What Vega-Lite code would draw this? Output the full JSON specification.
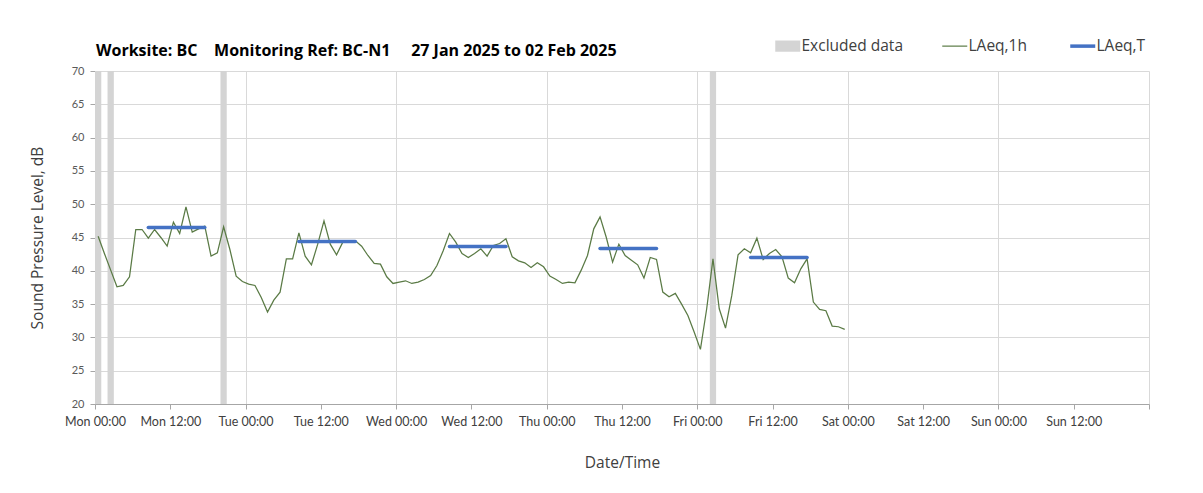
{
  "$schema": "https://vega.github.io/schema/vega-lite/v6.json",
  "width": 1054,
  "height": 333,
  "autosize": "none",
  "padding": {"left": 95, "top": 71, "right": 54, "bottom": 89},
  "background": "white",
  "config": {"font": "Open Sans", "view": {"stroke": null}},
  "title": {
    "text": "Worksite: BC\u00a0\u00a0\u00a0\u00a0Monitoring Ref: BC-N1\u00a0\u00a0\u00a0\u00a0\u00a027 Jan 2025 to 02 Feb 2025",
    "anchor": "start", "frame": "group", "dx": 1, "dy": 42,
    "font": "Open Sans", "fontSize": 16, "fontWeight": "bold", "color": "#000000", "offset": 21
  },
  "data": {"values": [
      {"t": "2025-01-27T00:00", "t2": "2025-01-27T01:00", "s": "Excluded data"},
      {"t": "2025-01-27T02:00", "t2": "2025-01-27T03:00", "s": "Excluded data"},
      {"t": "2025-01-27T20:00", "t2": "2025-01-27T21:00", "s": "Excluded data"},
      {"t": "2025-01-31T02:00", "t2": "2025-01-31T03:00", "s": "Excluded data"},
      {"t": "2025-01-27T08:30", "v": 46.5, "s": "LAeq,T", "p": "Mon"},
      {"t": "2025-01-27T17:30", "v": 46.5, "s": "LAeq,T", "p": "Mon"},
      {"t": "2025-01-28T08:30", "v": 44.4, "s": "LAeq,T", "p": "Tue"},
      {"t": "2025-01-28T17:30", "v": 44.4, "s": "LAeq,T", "p": "Tue"},
      {"t": "2025-01-29T08:30", "v": 43.65, "s": "LAeq,T", "p": "Wed"},
      {"t": "2025-01-29T17:30", "v": 43.65, "s": "LAeq,T", "p": "Wed"},
      {"t": "2025-01-30T08:30", "v": 43.35, "s": "LAeq,T", "p": "Thu"},
      {"t": "2025-01-30T17:30", "v": 43.35, "s": "LAeq,T", "p": "Thu"},
      {"t": "2025-01-31T08:30", "v": 42.0, "s": "LAeq,T", "p": "Fri"},
      {"t": "2025-01-31T17:30", "v": 42.0, "s": "LAeq,T", "p": "Fri"},
      {"t": "2025-01-27T00:30", "v": 45.2, "s": "LAeq,1h"},
      {"t": "2025-01-27T01:30", "v": 42.6, "s": "LAeq,1h"},
      {"t": "2025-01-27T02:30", "v": 40.1, "s": "LAeq,1h"},
      {"t": "2025-01-27T03:30", "v": 37.6, "s": "LAeq,1h"},
      {"t": "2025-01-27T04:30", "v": 37.8, "s": "LAeq,1h"},
      {"t": "2025-01-27T05:30", "v": 39.1, "s": "LAeq,1h"},
      {"t": "2025-01-27T06:30", "v": 46.2, "s": "LAeq,1h"},
      {"t": "2025-01-27T07:30", "v": 46.2, "s": "LAeq,1h"},
      {"t": "2025-01-27T08:30", "v": 44.9, "s": "LAeq,1h"},
      {"t": "2025-01-27T09:30", "v": 46.2, "s": "LAeq,1h"},
      {"t": "2025-01-27T10:30", "v": 45.0, "s": "LAeq,1h"},
      {"t": "2025-01-27T11:30", "v": 43.7, "s": "LAeq,1h"},
      {"t": "2025-01-27T12:30", "v": 47.3, "s": "LAeq,1h"},
      {"t": "2025-01-27T13:30", "v": 45.6, "s": "LAeq,1h"},
      {"t": "2025-01-27T14:30", "v": 49.6, "s": "LAeq,1h"},
      {"t": "2025-01-27T15:30", "v": 45.8, "s": "LAeq,1h"},
      {"t": "2025-01-27T16:30", "v": 46.3, "s": "LAeq,1h"},
      {"t": "2025-01-27T17:30", "v": 46.7, "s": "LAeq,1h"},
      {"t": "2025-01-27T18:30", "v": 42.2, "s": "LAeq,1h"},
      {"t": "2025-01-27T19:30", "v": 42.7, "s": "LAeq,1h"},
      {"t": "2025-01-27T20:30", "v": 46.6, "s": "LAeq,1h"},
      {"t": "2025-01-27T21:30", "v": 43.2, "s": "LAeq,1h"},
      {"t": "2025-01-27T22:30", "v": 39.2, "s": "LAeq,1h"},
      {"t": "2025-01-27T23:30", "v": 38.4, "s": "LAeq,1h"},
      {"t": "2025-01-28T00:30", "v": 38.0, "s": "LAeq,1h"},
      {"t": "2025-01-28T01:30", "v": 37.8, "s": "LAeq,1h"},
      {"t": "2025-01-28T02:30", "v": 36.0, "s": "LAeq,1h"},
      {"t": "2025-01-28T03:30", "v": 33.8, "s": "LAeq,1h"},
      {"t": "2025-01-28T04:30", "v": 35.6, "s": "LAeq,1h"},
      {"t": "2025-01-28T05:30", "v": 36.8, "s": "LAeq,1h"},
      {"t": "2025-01-28T06:30", "v": 41.8, "s": "LAeq,1h"},
      {"t": "2025-01-28T07:30", "v": 41.8, "s": "LAeq,1h"},
      {"t": "2025-01-28T08:30", "v": 45.7, "s": "LAeq,1h"},
      {"t": "2025-01-28T09:30", "v": 42.2, "s": "LAeq,1h"},
      {"t": "2025-01-28T10:30", "v": 40.9, "s": "LAeq,1h"},
      {"t": "2025-01-28T11:30", "v": 44.0, "s": "LAeq,1h"},
      {"t": "2025-01-28T12:30", "v": 47.5, "s": "LAeq,1h"},
      {"t": "2025-01-28T13:30", "v": 44.0, "s": "LAeq,1h"},
      {"t": "2025-01-28T14:30", "v": 42.4, "s": "LAeq,1h"},
      {"t": "2025-01-28T15:30", "v": 44.3, "s": "LAeq,1h"},
      {"t": "2025-01-28T16:30", "v": 44.5, "s": "LAeq,1h"},
      {"t": "2025-01-28T17:30", "v": 44.5, "s": "LAeq,1h"},
      {"t": "2025-01-28T18:30", "v": 43.7, "s": "LAeq,1h"},
      {"t": "2025-01-28T19:30", "v": 42.3, "s": "LAeq,1h"},
      {"t": "2025-01-28T20:30", "v": 41.1, "s": "LAeq,1h"},
      {"t": "2025-01-28T21:30", "v": 41.0, "s": "LAeq,1h"},
      {"t": "2025-01-28T22:30", "v": 39.1, "s": "LAeq,1h"},
      {"t": "2025-01-28T23:30", "v": 38.1, "s": "LAeq,1h"},
      {"t": "2025-01-29T00:30", "v": 38.3, "s": "LAeq,1h"},
      {"t": "2025-01-29T01:30", "v": 38.5, "s": "LAeq,1h"},
      {"t": "2025-01-29T02:30", "v": 38.1, "s": "LAeq,1h"},
      {"t": "2025-01-29T03:30", "v": 38.3, "s": "LAeq,1h"},
      {"t": "2025-01-29T04:30", "v": 38.7, "s": "LAeq,1h"},
      {"t": "2025-01-29T05:30", "v": 39.3, "s": "LAeq,1h"},
      {"t": "2025-01-29T06:30", "v": 40.8, "s": "LAeq,1h"},
      {"t": "2025-01-29T07:30", "v": 43.0, "s": "LAeq,1h"},
      {"t": "2025-01-29T08:30", "v": 45.6, "s": "LAeq,1h"},
      {"t": "2025-01-29T09:30", "v": 44.3, "s": "LAeq,1h"},
      {"t": "2025-01-29T10:30", "v": 42.6, "s": "LAeq,1h"},
      {"t": "2025-01-29T11:30", "v": 42.0, "s": "LAeq,1h"},
      {"t": "2025-01-29T12:30", "v": 42.6, "s": "LAeq,1h"},
      {"t": "2025-01-29T13:30", "v": 43.3, "s": "LAeq,1h"},
      {"t": "2025-01-29T14:30", "v": 42.2, "s": "LAeq,1h"},
      {"t": "2025-01-29T15:30", "v": 43.8, "s": "LAeq,1h"},
      {"t": "2025-01-29T16:30", "v": 44.1, "s": "LAeq,1h"},
      {"t": "2025-01-29T17:30", "v": 44.8, "s": "LAeq,1h"},
      {"t": "2025-01-29T18:30", "v": 42.1, "s": "LAeq,1h"},
      {"t": "2025-01-29T19:30", "v": 41.5, "s": "LAeq,1h"},
      {"t": "2025-01-29T20:30", "v": 41.2, "s": "LAeq,1h"},
      {"t": "2025-01-29T21:30", "v": 40.5, "s": "LAeq,1h"},
      {"t": "2025-01-29T22:30", "v": 41.2, "s": "LAeq,1h"},
      {"t": "2025-01-29T23:30", "v": 40.6, "s": "LAeq,1h"},
      {"t": "2025-01-30T00:30", "v": 39.2, "s": "LAeq,1h"},
      {"t": "2025-01-30T01:30", "v": 38.7, "s": "LAeq,1h"},
      {"t": "2025-01-30T02:30", "v": 38.1, "s": "LAeq,1h"},
      {"t": "2025-01-30T03:30", "v": 38.3, "s": "LAeq,1h"},
      {"t": "2025-01-30T04:30", "v": 38.2, "s": "LAeq,1h"},
      {"t": "2025-01-30T05:30", "v": 40.1, "s": "LAeq,1h"},
      {"t": "2025-01-30T06:30", "v": 42.3, "s": "LAeq,1h"},
      {"t": "2025-01-30T07:30", "v": 46.3, "s": "LAeq,1h"},
      {"t": "2025-01-30T08:30", "v": 48.1, "s": "LAeq,1h"},
      {"t": "2025-01-30T09:30", "v": 45.0, "s": "LAeq,1h"},
      {"t": "2025-01-30T10:30", "v": 41.3, "s": "LAeq,1h"},
      {"t": "2025-01-30T11:30", "v": 44.0, "s": "LAeq,1h"},
      {"t": "2025-01-30T12:30", "v": 42.3, "s": "LAeq,1h"},
      {"t": "2025-01-30T13:30", "v": 41.6, "s": "LAeq,1h"},
      {"t": "2025-01-30T14:30", "v": 40.9, "s": "LAeq,1h"},
      {"t": "2025-01-30T15:30", "v": 38.9, "s": "LAeq,1h"},
      {"t": "2025-01-30T16:30", "v": 42.0, "s": "LAeq,1h"},
      {"t": "2025-01-30T17:30", "v": 41.7, "s": "LAeq,1h"},
      {"t": "2025-01-30T18:30", "v": 36.8, "s": "LAeq,1h"},
      {"t": "2025-01-30T19:30", "v": 36.1, "s": "LAeq,1h"},
      {"t": "2025-01-30T20:30", "v": 36.6, "s": "LAeq,1h"},
      {"t": "2025-01-30T21:30", "v": 35.0, "s": "LAeq,1h"},
      {"t": "2025-01-30T22:30", "v": 33.3, "s": "LAeq,1h"},
      {"t": "2025-01-30T23:30", "v": 30.8, "s": "LAeq,1h"},
      {"t": "2025-01-31T00:30", "v": 28.2, "s": "LAeq,1h"},
      {"t": "2025-01-31T01:30", "v": 34.3, "s": "LAeq,1h"},
      {"t": "2025-01-31T02:30", "v": 41.8, "s": "LAeq,1h"},
      {"t": "2025-01-31T03:30", "v": 34.3, "s": "LAeq,1h"},
      {"t": "2025-01-31T04:30", "v": 31.4, "s": "LAeq,1h"},
      {"t": "2025-01-31T05:30", "v": 36.3, "s": "LAeq,1h"},
      {"t": "2025-01-31T06:30", "v": 42.4, "s": "LAeq,1h"},
      {"t": "2025-01-31T07:30", "v": 43.3, "s": "LAeq,1h"},
      {"t": "2025-01-31T08:30", "v": 42.7, "s": "LAeq,1h"},
      {"t": "2025-01-31T09:30", "v": 44.9, "s": "LAeq,1h"},
      {"t": "2025-01-31T10:30", "v": 41.7, "s": "LAeq,1h"},
      {"t": "2025-01-31T11:30", "v": 42.6, "s": "LAeq,1h"},
      {"t": "2025-01-31T12:30", "v": 43.2, "s": "LAeq,1h"},
      {"t": "2025-01-31T13:30", "v": 42.1, "s": "LAeq,1h"},
      {"t": "2025-01-31T14:30", "v": 38.9, "s": "LAeq,1h"},
      {"t": "2025-01-31T15:30", "v": 38.2, "s": "LAeq,1h"},
      {"t": "2025-01-31T16:30", "v": 40.3, "s": "LAeq,1h"},
      {"t": "2025-01-31T17:30", "v": 41.8, "s": "LAeq,1h"},
      {"t": "2025-01-31T18:30", "v": 35.3, "s": "LAeq,1h"},
      {"t": "2025-01-31T19:30", "v": 34.2, "s": "LAeq,1h"},
      {"t": "2025-01-31T20:30", "v": 34.0, "s": "LAeq,1h"},
      {"t": "2025-01-31T21:30", "v": 31.7, "s": "LAeq,1h"},
      {"t": "2025-01-31T22:30", "v": 31.6, "s": "LAeq,1h"},
      {"t": "2025-01-31T23:30", "v": 31.2, "s": "LAeq,1h"}
  ]},
  "encoding": {
    "x": {
      "field": "t", "type": "temporal",
      "scale": {"domain": [{"year": 2025, "month": 1, "date": 27, "hours": 0}, {"year": 2025, "month": 2, "date": 3, "hours": 0}]},
      "axis": {
        "title": "Date/Time",
        "values": [
          {"year": 2025, "month": 1, "date": 27, "hours": 0}, {"year": 2025, "month": 1, "date": 27, "hours": 12},
          {"year": 2025, "month": 1, "date": 28, "hours": 0}, {"year": 2025, "month": 1, "date": 28, "hours": 12},
          {"year": 2025, "month": 1, "date": 29, "hours": 0}, {"year": 2025, "month": 1, "date": 29, "hours": 12},
          {"year": 2025, "month": 1, "date": 30, "hours": 0}, {"year": 2025, "month": 1, "date": 30, "hours": 12},
          {"year": 2025, "month": 1, "date": 31, "hours": 0}, {"year": 2025, "month": 1, "date": 31, "hours": 12},
          {"year": 2025, "month": 2, "date": 1, "hours": 0}, {"year": 2025, "month": 2, "date": 1, "hours": 12},
          {"year": 2025, "month": 2, "date": 2, "hours": 0}, {"year": 2025, "month": 2, "date": 2, "hours": 12},
          {"year": 2025, "month": 2, "date": 3, "hours": 0}
        ],
        "labelExpr": "datum.index === 1 ? '' : timeFormat(datum.value, '%a %H:%M')",
        "labelFont": "Lato", "labelFontSize": 12.5, "labelColor": "#404040", "labelPadding": 6,
        "labelAngle": 0, "labelOverlap": false, "labelFlush": false,
        "tickSize": 5, "tickColor": "#a6a6a6", "domainColor": "#a6a6a6",
        "grid": true, "gridColor": "#d9d9d9",
        "gridOpacity": {"condition": {"test": "hours(datum.value) === 0", "value": 1}, "value": 0},
        "titleFontSize": 15.5, "titleFontWeight": "normal", "titleColor": "#404040", "titlePadding": 28
      }
    }
  },
  "layer": [
    {
      "transform": [{"filter": "datum.s === 'Excluded data'"}],
      "mark": {"type": "rect"},
      "encoding": {
        "x2": {"field": "t2"},
        "color": {
          "field": "s", "type": "nominal",
          "scale": {"domain": ["Excluded data", "LAeq,1h", "LAeq,T"], "range": ["#d4d4d4", "#5a7a45", "#4472c4"]},
          "legend": {
            "title": null, "orient": "none", "legendX": 685, "legendY": -33,
            "direction": "horizontal", "columns": 3, "columnPadding": 36,
            "symbolType": "stroke", "symbolSize": 625,
            "labelFontSize": 15.5, "labelColor": "#404040", "labelOffset": 6,
            "encode": {
              "symbols": {
                "update": {
                  "shape": {"signal": "datum.value === 'Excluded data' ? 'M-1,-0.45L1,-0.45L1,0.45L-1,0.45Z' : 'stroke'"},
                  "fill": {"signal": "datum.value === 'Excluded data' ? '#d4d4d4' : 'transparent'"},
                  "stroke": {"scale": "color", "field": "value"},
                  "strokeCap": {"value": "butt"},
                  "strokeWidth": {"signal": "datum.value === 'Excluded data' ? 0 : (datum.value === 'LAeq,T' ? 3.5 : 1.2)"}
                }
              }
            }
          }
        }
      }
    },
    {
      "transform": [{"filter": "datum.s === 'LAeq,1h'"}],
      "mark": {"type": "line", "strokeWidth": 1.25},
      "encoding": {
        "y": {
          "field": "v", "type": "quantitative",
          "scale": {"domain": [20, 70], "nice": false, "zero": false},
          "axis": {
            "title": "Sound Pressure Level, dB",
            "values": [20, 25, 30, 35, 40, 45, 50, 55, 60, 65, 70],
            "labelOverlap": false,
            "labelFont": "Lato", "labelFontSize": 11, "labelColor": "#595959", "labelPadding": 6,
            "tickSize": 5, "tickColor": "#a6a6a6", "domainColor": "#a6a6a6",
            "grid": true, "gridColor": "#d9d9d9",
            "titleFontSize": 15.5, "titleFontWeight": "normal", "titleColor": "#404040", "titlePadding": 26
          }
        },
        "color": {"field": "s", "type": "nominal"}
      }
    },
    {
      "transform": [{"filter": "datum.s === 'LAeq,T'"}],
      "mark": {"type": "line", "strokeWidth": 3.5, "strokeCap": "round"},
      "encoding": {
        "y": {
          "field": "v", "type": "quantitative",
          "axis": {
            "title": "Sound Pressure Level, dB",
            "values": [20, 25, 30, 35, 40, 45, 50, 55, 60, 65, 70],
            "labelOverlap": false,
            "labelFont": "Lato", "labelFontSize": 11, "labelColor": "#595959", "labelPadding": 6,
            "tickSize": 5, "tickColor": "#a6a6a6", "domainColor": "#a6a6a6",
            "grid": true, "gridColor": "#d9d9d9",
            "titleFontSize": 15.5, "titleFontWeight": "normal", "titleColor": "#404040", "titlePadding": 26
          }
        },
        "color": {"field": "s", "type": "nominal"},
        "detail": {"field": "p", "type": "nominal"}
      }
    }
  ]
}
